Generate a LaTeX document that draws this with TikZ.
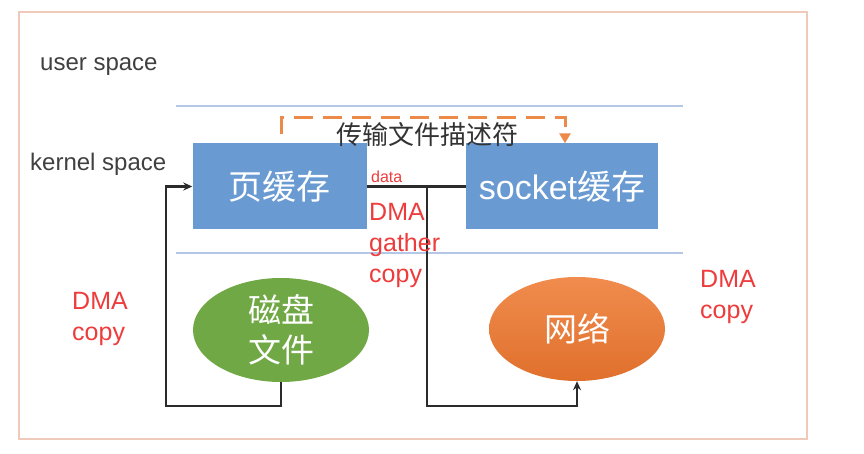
\documentclass[tikz,border=0pt]{standalone}
\usepackage{fontspec}
\setmainfont{Liberation Sans}
\newfontfamily\cjk{Noto Sans CJK SC}
\usetikzlibrary{arrows.meta,shapes.geometric}
\definecolor{boxblue}{HTML}{6A9AD2}
\definecolor{sepblue}{HTML}{B4C7E7}
\definecolor{framec}{HTML}{EFCABA}
\definecolor{diskgreen}{HTML}{70A845}
\definecolor{orangetop}{HTML}{F08C4E}
\definecolor{orangebot}{HTML}{E0702C}
\definecolor{dashorange}{HTML}{EC8A4A}
\definecolor{redtxt}{HTML}{EE3B3B}
\definecolor{linec}{HTML}{2B2B2B}
\tikzset{
  bufbox/.style={fill=boxblue, draw=none, minimum height=86pt, text=white, font=\fontsize{34}{38}\selectfont, inner sep=0pt},
  devell/.style={ellipse, draw=none, minimum width=176pt, minimum height=104pt, text=white, font=\cjk\fontsize{33}{40}\selectfont, align=center, inner sep=0pt},
  lbl/.style={anchor=west, inner sep=0pt, text=black!75, font=\fontsize{24}{28}\selectfont},
  redlbl/.style={anchor=north west, inner sep=0pt, text=redtxt, align=left, font=\fontsize{25}{31}\selectfont},
  conn/.style={draw=linec, line width=2.2pt, -{Stealth[length=9pt,width=8pt]}},
  sep/.style={draw=sepblue, line width=1.5pt}
}
\begin{document}
\begin{tikzpicture}[x=1pt,y=-1pt]
\useasboundingbox (0,0) rectangle (864,454);
\fill[white] (0,0) rectangle (864,454);
\draw[framec, line width=1.8pt] (19,12) rectangle (807,439);
% separators
\coordinate (s1a) at (176,106); \coordinate (s1b) at (683,106);
\coordinate (s2a) at (176,253); \coordinate (s2b) at (683,253);
\draw[sep] (s1a) -- (s1b);
\draw[sep] (s2a) -- (s2b);
% labels
\node[lbl] (us) at (40,67) {user space};
\node[lbl] (ks) at (30,164) {kernel space};
% buffers
\node[bufbox, minimum width=174pt] (page) at (279.5,186.5) {\cjk 页缓存};
\node[bufbox, minimum width=192pt] (sock) at (562,186.5) {socket{\cjk 缓存}};
% devices
\node[devell, fill=diskgreen] (disk) at (281,330) {磁盘\\文件};
\node[devell, top color=orangetop, bottom color=orangebot] (net) at (577,329) {网络};
% descriptor transfer
\node[font=\cjk\fontsize{26}{30}\selectfont, text=black!80, inner sep=0pt] (desc) at (427,135) {传输文件描述符};
\coordinate (d0) at (281,134);
\draw[dashorange, line width=3pt, dash pattern=on 19pt off 10pt, -{Triangle[length=10pt,width=11pt]}]
  (d0) -- (281,118) -- (565,118) -- (sock.north -| 565,0);
% DMA copy disk -> page cache
\coordinate (l1) at (166,406);
\draw[conn] (disk.south) |- (l1) |- (page.west);
% DMA gather copy page cache -> network
\coordinate (jn) at (427,186.5);
\coordinate (l2) at (427,406);
\draw[draw=linec, line width=2.2pt] (page.east) -- (sock.west);
\draw[conn] (jn) -- (l2) -| (net.south);
% red labels
\node[anchor=west, inner sep=0pt, text=redtxt, font=\fontsize{16}{18}\selectfont] (data) at (371,177) {data};
\node[redlbl] (dg) at (369,203) {DMA\\gather\\copy};
\node[redlbl] (dc1) at (72,292) {DMA\\copy};
\node[redlbl] (dc2) at (700,270) {DMA\\copy};
\end{tikzpicture}
\end{document}
